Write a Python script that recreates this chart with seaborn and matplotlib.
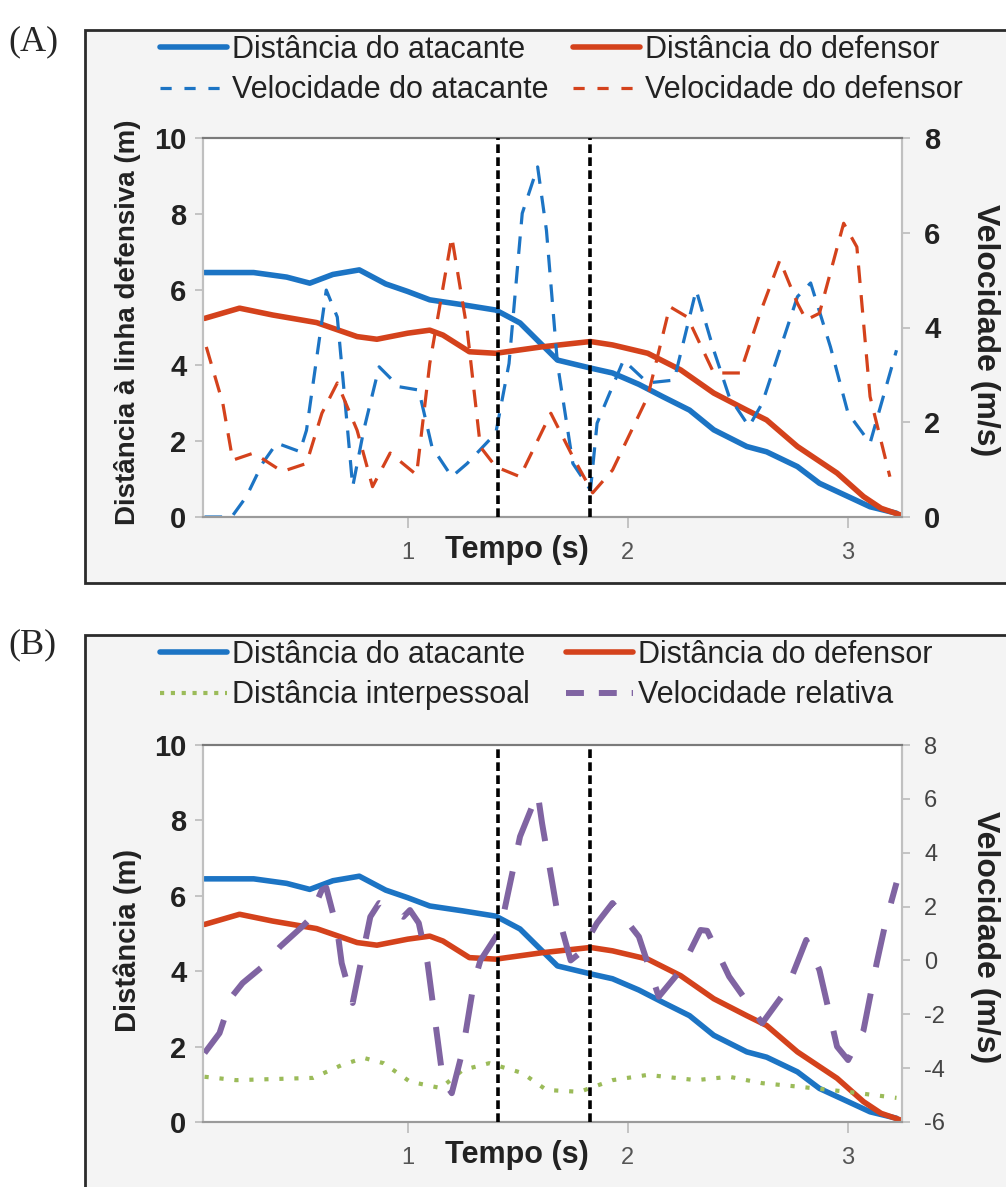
import numpy as np
import pandas as pd
import matplotlib
matplotlib.use("Agg")
import matplotlib.pyplot as plt
import seaborn as sns
from matplotlib.patches import Rectangle
from matplotlib.lines import Line2D

# dados
t_dist_atac = [0.077, 0.30, 0.45, 0.555, 0.66, 0.78, 0.90, 1.00, 1.10, 1.25, 1.40, 1.51, 1.60,
               1.68, 1.83, 1.93, 2.05, 2.16, 2.28, 2.39, 2.54, 2.63, 2.77, 2.87, 3.00, 3.10, 3.22]
dist_atac = [6.45, 6.45, 6.33, 6.17, 6.40, 6.52, 6.15, 5.95, 5.73, 5.60, 5.46, 5.12, 4.60,
             4.14, 3.93, 3.80, 3.50, 3.17, 2.82, 2.30, 1.86, 1.72, 1.33, 0.89, 0.54, 0.27, 0.10]

t_dist_def = [0.077, 0.236, 0.386, 0.586, 0.77, 0.86, 1.00, 1.10, 1.16, 1.28, 1.40, 1.61, 1.83,
              1.93, 2.09, 2.24, 2.39, 2.54, 2.63, 2.77, 2.95, 3.07, 3.15, 3.24]
dist_def = [5.24, 5.51, 5.33, 5.13, 4.76, 4.69, 4.85, 4.93, 4.80, 4.36, 4.32, 4.49, 4.63,
            4.54, 4.32, 3.88, 3.27, 2.82, 2.56, 1.86, 1.16, 0.54, 0.23, 0.05]

t_vel_atac = [0.077, 0.20, 0.267, 0.34, 0.405, 0.51, 0.54, 0.63, 0.68, 0.72, 0.75, 0.80, 0.87,
              0.96, 1.05, 1.11, 1.20, 1.27, 1.40, 1.46, 1.52, 1.59, 1.63, 1.68, 1.75, 1.83,
              1.86, 1.98, 2.09, 2.21, 2.31, 2.39, 2.46, 2.55, 2.61, 2.77, 2.83, 2.92, 3.00,
              3.10, 3.22]
vel_atac = [0.0, 0.0, 0.43, 1.13, 1.56, 1.38, 1.83, 4.79, 4.22, 2.19, 0.64, 1.83, 3.17,
            2.75, 2.68, 1.48, 0.85, 1.13, 1.77, 3.24, 6.41, 7.39, 6.05, 3.24, 1.13, 0.57,
            1.98, 3.31, 2.83, 2.89, 4.79, 3.52, 2.54, 1.91, 2.40, 4.65, 4.94, 3.59, 2.19,
            1.56, 3.52]

t_vel_def = [0.085, 0.16, 0.205, 0.30, 0.43, 0.54, 0.61, 0.68, 0.77, 0.84, 0.92, 1.04, 1.10,
             1.20, 1.27, 1.33, 1.40, 1.51, 1.65, 1.75, 1.84, 1.93, 2.09, 2.19, 2.27, 2.39,
             2.51, 2.60, 2.69, 2.77, 2.81, 2.87, 2.98, 3.04, 3.10, 3.19]
vel_def = [3.59, 2.40, 1.20, 1.35, 0.96, 1.13, 2.19, 2.83, 1.83, 0.64, 1.35, 0.89, 3.24,
           5.91, 3.95, 1.48, 1.06, 0.85, 2.19, 1.27, 0.51, 0.99, 2.54, 4.44, 4.22, 3.04,
           3.04, 4.30, 5.42, 4.51, 4.16, 4.30, 6.20, 5.70, 2.54, 0.85]

t_interp = [0.077, 0.22, 0.57, 0.70, 0.80, 0.89, 1.01, 1.15, 1.25, 1.37, 1.52, 1.63, 1.78,
            1.93, 2.09, 2.31, 2.46, 2.61, 2.77, 3.00, 3.22]
dist_interp = [1.20, 1.11, 1.17, 1.51, 1.70, 1.56, 1.07, 0.90, 1.38, 1.56, 1.30, 0.85, 0.80,
               1.11, 1.25, 1.11, 1.20, 1.03, 0.94, 0.80, 0.64]

t_vel_rel = [0.077, 0.145, 0.20, 0.25, 0.34, 0.42, 0.52, 0.55, 0.61, 0.63, 0.68, 0.70, 0.75,
             0.78, 0.83, 0.87, 0.98, 1.01, 1.05, 1.09, 1.13, 1.16, 1.20, 1.25, 1.30, 1.33,
             1.42, 1.51, 1.59, 1.61, 1.68, 1.74, 1.78, 1.86, 1.93, 2.05, 2.14, 2.24, 2.33,
             2.36, 2.46, 2.61, 2.72, 2.81, 2.87, 2.95, 3.00, 3.07, 3.13, 3.17, 3.22]
vel_rel = [-3.44, -2.70, -1.35, -0.84, -0.23, 0.51, 1.25, 1.50, 2.62, 2.70, 1.13, -0.10, -1.58,
           -0.36, 1.62, 2.13, 1.62, 1.87, 1.39, -0.10, -2.59, -4.45, -4.93, -3.33, -0.84, 0.0,
           1.13, 4.60, 6.22, 5.10, 1.76, 0.0, 0.26, 1.39, 2.13, 0.88, -1.35, -0.36, 1.13,
           1.10, -0.60, -2.33, -1.10, 0.76, -0.36, -3.20, -3.70, -2.60, -0.10, 1.39, 2.88]

marcos = [1.41, 1.83]
x_ticks = [1, 2, 3]

azul = "#1c74c4"
vermelho = "#d4421c"
roxo = "#8064a2"
verde = "#9bbb59"

sns.set_theme(style="white")
plt.rcParams["font.family"] = ["Liberation Sans", "DejaVu Sans"]
plt.rcParams["axes.unicode_minus"] = False
plt.rcParams["lines.solid_joinstyle"] = "round"

W, H = 1006, 1187
fig = plt.figure(figsize=(W / 100, H / 100), dpi=100)
fig.patch.set_facecolor("white")


def fx(px):
    return px / W


def fy(py):
    return 1 - py / H


# molduras
for top, bot in [(30, 583), (635, 1195)]:
    fig.patches.append(Rectangle((fx(85), fy(bot)), 1.2, fy(top) - fy(bot), transform=fig.transFigure,
                                 facecolor="#f4f4f4", edgecolor="#2b2b2b", lw=2, zorder=-5))


def estilo_eixos(ax, ax2, right_bold):
    ax.set_facecolor("white")
    ax.set_xlim(0.07, 3.245)
    ax.set_ylim(0, 10)
    ax.set_yticks(range(0, 11, 2))
    ax.set_xticks(x_ticks)
    ax.set_xticklabels([str(v) for v in x_ticks], fontsize=17, color="#555555")
    ax.set_xlabel("")
    ax.set_ylabel("")
    ax2.set_ylabel("")
    for lab in ax.get_yticklabels():
        lab.set_fontweight("bold")
        lab.set_fontsize(21)
        lab.set_color("#222222")
    ax.tick_params(axis="y", direction="out", length=6, color="#bbbbbb", width=1.2, pad=6, left=True)
    ax.tick_params(axis="x", direction="out", length=8, color="#bbbbbb", width=1.2, pad=10, bottom=True)
    ax2.tick_params(axis="y", direction="out", length=6, color="#bbbbbb", width=1.2, pad=10, right=True)
    for lab in ax2.get_yticklabels():
        if right_bold:
            lab.set_fontweight("bold")
            lab.set_fontsize(21)
            lab.set_color("#222222")
        else:
            lab.set_fontsize(17)
            lab.set_color("#444444")
    for a in (ax, ax2):
        a.spines["left"].set_color("#c0c0c0")
        a.spines["right"].set_color("#c0c0c0")
        a.spines["top"].set_color("#7a7a7a")
        a.spines["bottom"].set_color("#9a9a9a")
        for s in a.spines.values():
            s.set_linewidth(1.5)
    for m in marcos:
        ax2.axvline(m, color="black", lw=2.6, linestyle=(0, (2.4, 1.2)), zorder=5)


lw_dist = 4.0
leg_kw = dict(ncol=2, loc="upper left", frameon=False, fontsize=22, handlelength=2.2,
              handletextpad=0.15, labelspacing=0.34, borderpad=0,
              borderaxespad=0, labelcolor="#222222")

# ---------- (A)
axA = fig.add_axes([fx(203), fy(517), fx(902) - fx(203), fy(138) - fy(517)])
axA2 = axA.twinx()
sns.lineplot(x=t_dist_atac, y=dist_atac, ax=axA, color=azul, lw=lw_dist)
sns.lineplot(x=t_dist_def, y=dist_def, ax=axA, color=vermelho, lw=lw_dist)
sns.lineplot(x=t_vel_atac, y=vel_atac, ax=axA2, color=azul, lw=2.3, linestyle=(0, (5.5, 3.8)))
sns.lineplot(x=t_vel_def, y=vel_def, ax=axA2, color=vermelho, lw=2.3, linestyle=(0, (5.5, 3.8)))
axA2.set_ylim(0, 8)
axA2.set_yticks(range(0, 9, 2))
estilo_eixos(axA, axA2, True)

fig.text(fx(128), fy(322), "Distância à linha defensiva (m)", rotation=90, ha="center", va="center",
         fontsize=20, fontweight="bold", color="#222222")
fig.text(fx(985), fy(330), "Velocidade (m/s)", rotation=270, ha="center", va="center",
         fontsize=23, fontweight="bold", color="#222222")
fig.text(fx(517), fy(550), "Tempo (s)", ha="center", va="center", fontsize=22, fontweight="bold",
         color="#222222")
fig.text(fx(8), fy(42), "(A)", ha="left", va="center", fontsize=26, family="Liberation Serif")

hA = [Line2D([], [], color=azul, lw=lw_dist),
      Line2D([], [], color=azul, lw=2.3, linestyle=(0, (3.5, 4))),
      Line2D([], [], color=vermelho, lw=lw_dist),
      Line2D([], [], color=vermelho, lw=2.3, linestyle=(0, (3.5, 4)))]
lA = ["Distância do atacante", "Velocidade do atacante", "Distância do defensor", "Velocidade do defensor"]
fig.legend(hA, lA, bbox_to_anchor=(fx(160), fy(35)), columnspacing=0.8, **leg_kw)

# ---------- (B)
axB = fig.add_axes([fx(203), fy(1122), fx(902) - fx(203), fy(745) - fy(1122)])
axB2 = axB.twinx()
sns.lineplot(x=t_dist_atac, y=dist_atac, ax=axB, color=azul, lw=lw_dist)
sns.lineplot(x=t_dist_def, y=dist_def, ax=axB, color=vermelho, lw=lw_dist)
sns.lineplot(x=t_interp, y=dist_interp, ax=axB, color=verde, lw=3.0, linestyle=(0, (1, 2.6)))
sns.lineplot(x=t_vel_rel, y=vel_rel, ax=axB2, color=roxo, lw=4.3, linestyle=(0, (6.5, 4.5)))
axB2.set_ylim(-6, 8)
axB2.set_yticks(range(-6, 9, 2))
estilo_eixos(axB, axB2, False)

fig.text(fx(128), fy(940), "Distância (m)", rotation=90, ha="center", va="center",
         fontsize=21, fontweight="bold", color="#222222")
fig.text(fx(985), fy(937), "Velocidade (m/s)", rotation=270, ha="center", va="center",
         fontsize=23, fontweight="bold", color="#222222")
fig.text(fx(517), fy(1155), "Tempo (s)", ha="center", va="center", fontsize=22, fontweight="bold",
         color="#222222")
fig.text(fx(8), fy(645), "(B)", ha="left", va="center", fontsize=26, family="Liberation Serif")

hB = [Line2D([], [], color=azul, lw=lw_dist),
      Line2D([], [], color=verde, lw=3.0, linestyle=(0, (1, 1.6))),
      Line2D([], [], color=vermelho, lw=lw_dist),
      Line2D([], [], color=roxo, lw=4.3, linestyle=(0, (3, 2.5)))]
lB = ["Distância do atacante", "Distância interpessoal", "Distância do defensor", "Velocidade relativa"]
fig.legend(hB, lB, bbox_to_anchor=(fx(160), fy(640)), columnspacing=1.2, **leg_kw)

fig.savefig("out.png", dpi=100)
